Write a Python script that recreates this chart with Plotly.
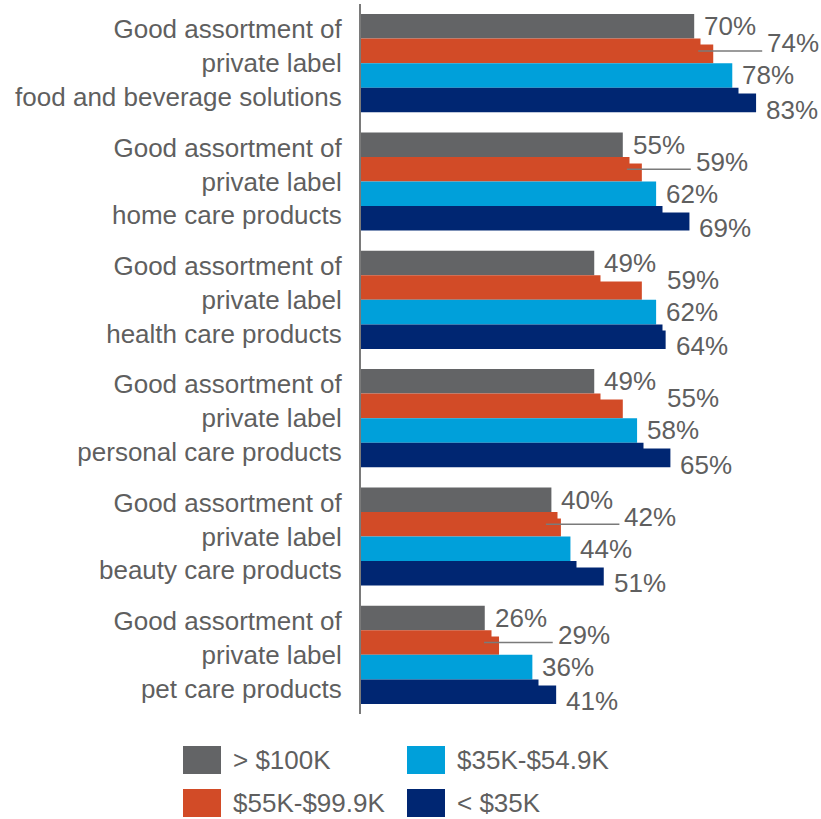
import plotly.graph_objects as go

# Survey: share of shoppers agreeing, by household income band
categories = [
    "Good assortment of<br>private label<br>food and beverage solutions",
    "Good assortment of<br>private label<br>home care products",
    "Good assortment of<br>private label<br>health care products",
    "Good assortment of<br>private label<br>personal care products",
    "Good assortment of<br>private label<br>beauty care products",
    "Good assortment of<br>private label<br>pet care products",
]
series_names = ["> $100K", "$55K-$99.9K", "$35K-$54.9K", "< $35K"]
income_100k_plus = [70, 55, 49, 49, 40, 26]
income_55k_99k = [74, 59, 59, 55, 42, 29]
income_35k_54k = [78, 62, 62, 58, 44, 36]
income_under_35k = [83, 69, 64, 65, 51, 41]
series_values = [income_100k_plus, income_55k_99k, income_35k_54k, income_under_35k]
series_colors = ["#636466", "#D24B27", "#00A0DA", "#002672"]

TEXT = "#5f5f5f"
FONT = "Liberation Sans, Arial, sans-serif"

# page / plot geometry (pixels)
W, H = 821, 819
M_L, M_R, M_T, M_B = 361, 0, 4, 105
PLOT_W = W - M_L - M_R
PX_PER_UNIT = 4.76
X_MAX = PLOT_W / PX_PER_UNIT
BARGAP = 0.17
N = len(series_names)
slot = (1 - BARGAP) / N


def bar_offset(k):
    # centre of the k-th bar inside a category group, in category units
    return -(1 - BARGAP) / 2 + (k + 0.5) * slot


fig = go.Figure()
for name, vals, col in zip(series_names, series_values, series_colors):
    fig.add_trace(go.Bar(
        y=categories, x=vals, name=name, orientation="h",
        marker=dict(color=col, line=dict(width=0)),
        showlegend=False,
    ))

# value labels; white boxes let them sit over neighbouring bars
label_nudge = [0, 7.5, 0, -9.5]
GAP = 6
annotations = []
shapes = []
for i, cat in enumerate(categories):
    for k in range(N):
        v = series_values[k][i]
        xanchor_val = v
        xshift = GAP
        if k == 1:
            # keep the second label clear of the first one
            xanchor_val = series_values[0][i]
            xshift = GAP + 63
            text_start = (series_values[0][i] * PX_PER_UNIT) + xshift + 3
            bar_end = v * PX_PER_UNIT
            if text_start - bar_end > 50:
                yc = i + bar_offset(k)
                shapes.append(dict(
                    type="line", xref="x", yref="y", layer="above",
                    x0=v - 15 / PX_PER_UNIT, x1=(text_start - 4) / PX_PER_UNIT,
                    y0=yc, y1=yc,
                    line=dict(color="#7a7a7a", width=1.5),
                ))
        annotations.append(dict(
            x=xanchor_val, y=i + bar_offset(k), xref="x", yref="y",
            text=f"{v}%", showarrow=False,
            xanchor="left", yanchor="middle",
            xshift=xshift, yshift=label_nudge[k],
            bgcolor="white", borderpad=3,
            font=dict(size=26, color=TEXT, family=FONT),
        ))


def px_x(p):
    return (p - M_L) / PLOT_W


def px_y(p):
    return 1 - (p - M_T) / (H - M_T - M_B)


# legend: two columns of swatches with labels
legend_slots = [(183, 746), (183, 789), (407, 746), (407, 789)]
for (lx, ly), name, col in zip(legend_slots, series_names, series_colors):
    shapes.append(dict(
        type="rect", xref="paper", yref="paper",
        x0=px_x(lx), x1=px_x(lx + 38), y0=px_y(ly), y1=px_y(ly + 28),
        fillcolor=col, line=dict(width=0),
    ))
    annotations.append(dict(
        x=px_x(lx + 48), y=px_y(ly + 14), xref="paper", yref="paper",
        text=name, showarrow=False, xanchor="left", yanchor="middle",
        font=dict(size=26, color=TEXT, family=FONT),
    ))

fig.update_layout(
    width=W, height=H,
    margin=dict(l=M_L, r=M_R, t=M_T, b=M_B),
    barmode="group", bargap=BARGAP, bargroupgap=0,
    plot_bgcolor="white", paper_bgcolor="white",
    font=dict(family=FONT, color=TEXT, size=26),
    annotations=annotations, shapes=shapes,
)
fig.update_xaxes(range=[0, X_MAX], visible=False, showgrid=False, zeroline=False)
fig.update_yaxes(
    type="category", autorange="reversed",
    showline=True, linecolor="#7a7a7a", linewidth=2,
    showgrid=False, zeroline=False, ticks="",
    ticklabelstandoff=12,
    tickfont=dict(size=26, color=TEXT, family=FONT),
)

fig.write_html("out.html")
